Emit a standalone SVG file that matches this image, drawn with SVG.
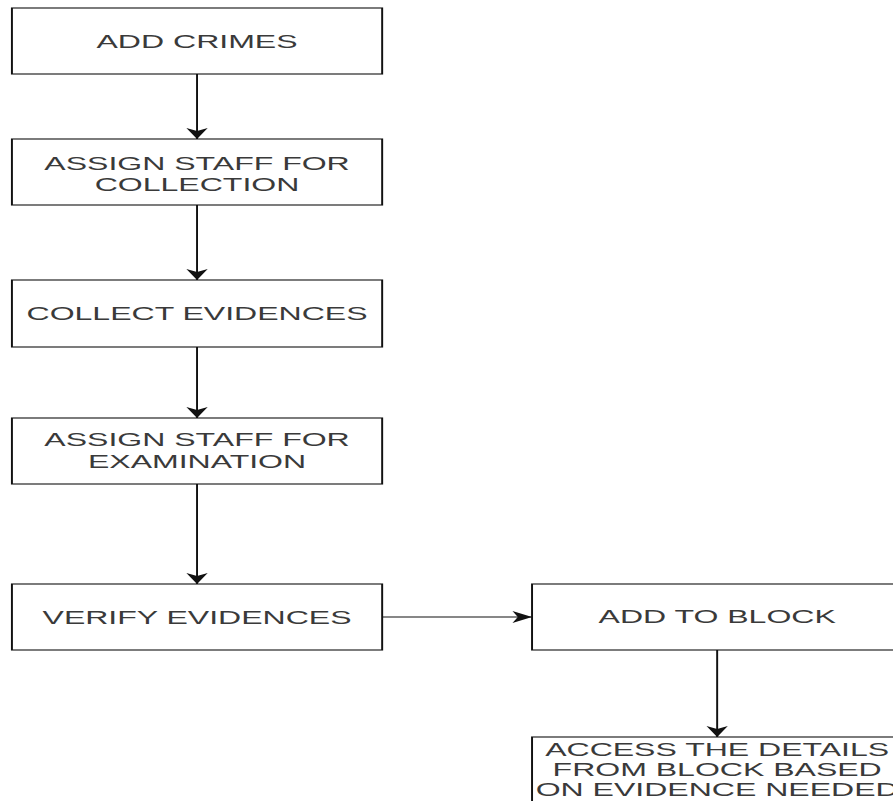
<svg xmlns="http://www.w3.org/2000/svg" width="893" height="801" viewBox="0 0 893 801">
<defs>
<style>
.box{fill:#fff;stroke:#111;stroke-width:1.1}
.lbl{font-family:"Liberation Sans",Arial,sans-serif;font-size:18px;fill:#3a3a3a;text-anchor:middle}
.edge{fill:none;stroke:#111;stroke-width:1.1}
</style>
<marker id="arr" markerUnits="userSpaceOnUse" markerWidth="12" markerHeight="12" refX="11" refY="6" orient="auto" viewBox="0 0 12 12">
<path d="M0,0 L11,6 L0,12 L3,6 Z" fill="#111"/>
</marker>
</defs>
<rect width="893" height="801" fill="#fff"/>
<g transform="scale(1.78,1)">
<g id="connectors">
<line class="edge" x1="110.7" y1="74" x2="110.7" y2="139" marker-end="url(#arr)"/>
<line class="edge" x1="110.7" y1="205" x2="110.7" y2="280" marker-end="url(#arr)"/>
<line class="edge" x1="110.7" y1="347" x2="110.7" y2="418" marker-end="url(#arr)"/>
<line class="edge" x1="110.7" y1="484" x2="110.7" y2="584" marker-end="url(#arr)"/>
<line class="edge" x1="214.6" y1="617" x2="298.9" y2="617" marker-end="url(#arr)"/>
<line class="edge" x1="402.9" y1="650" x2="402.9" y2="737" marker-end="url(#arr)"/>
</g>
<g id="add-crimes">
<rect class="box" x="6.7" y="8" width="208" height="66"/>
<text class="lbl" x="110.7" y="47.7">ADD CRIMES</text>
</g>
<g id="assign-collection">
<rect class="box" x="6.7" y="139" width="208" height="66"/>
<text class="lbl" x="110.7" y="170">ASSIGN STAFF FOR</text>
<text class="lbl" x="110.7" y="191">COLLECTION</text>
</g>
<g id="collect-evidences">
<rect class="box" x="6.7" y="280" width="208" height="67"/>
<text class="lbl" x="110.7" y="320">COLLECT EVIDENCES</text>
</g>
<g id="assign-examination">
<rect class="box" x="6.7" y="418" width="208" height="66"/>
<text class="lbl" x="110.7" y="446">ASSIGN STAFF FOR</text>
<text class="lbl" x="110.7" y="468">EXAMINATION</text>
</g>
<g id="verify-evidences">
<rect class="box" x="6.7" y="584" width="208" height="66"/>
<text class="lbl" x="110.7" y="624">VERIFY EVIDENCES</text>
</g>
<g id="add-to-block">
<rect class="box" x="298.9" y="584" width="208" height="66"/>
<text class="lbl" x="402.9" y="623.5">ADD TO BLOCK</text>
</g>
<g id="access-details">
<rect class="box" x="298.9" y="737" width="208" height="66"/>
<text class="lbl" x="402.9" y="756">ACCESS THE DETAILS</text>
<text class="lbl" x="402.9" y="776">FROM BLOCK BASED</text>
<text class="lbl" x="402.9" y="796.5">ON EVIDENCE NEEDED</text>
</g>
</g>
</svg>
